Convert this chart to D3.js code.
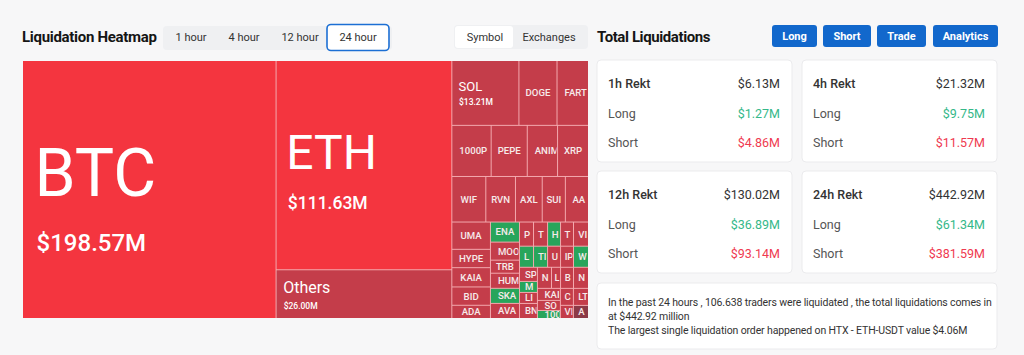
<!DOCTYPE html>
<html><head><meta charset="utf-8">
<script src="https://cdn.jsdelivr.net/npm/d3@7"></script>
<style>
body{margin:0;background:#f7f7f8;font-family:Roboto,"Noto Sans",sans-serif;}
svg{display:block}
</style></head><body>
<svg id="c" width="1024" height="355"></svg>
<script>
// ---- data ----
const coins  = ["BTC","ETH","Others","SOL","DOGE","FARTCOIN","1000PEPE","PEPE","ANIME","XRP",
  "WIF","RVN","AXL","SUI","AAVE","UMA","HYPE","KAIA","BID","ADA",
  "ENA","MOODENG","TRB","HUMA","SKATE","AVAX",
  "PNUT","TRUMP","HBAR","TAO","VIRTUAL","LAYER","TIA","UNI","IP","WLD",
  "SPX","MASK","LINK","BNB","NEAR","LDO","BERA","NEIRO","KAITO","SOPH","1000BONK","CRV","VINE","LTC","ARB"];
const values = [198.57,111.63,26.00,13.21,7.5,6.2,6.1,5.6,4.7,4.8,
  4.7,4.1,3.7,3.2,3.2,3.2,2.15,2.26,2.15,1.55,
  1.77,1.59,1.15,1.33,1.33,1.33,
  1.03,1.03,0.95,0.95,1.1,0.9,0.9,0.83,0.83,0.96,
  0.77,0.6,0.6,0.82,0.9,0.58,0.83,0.96,0.84,0.7,0.56,0.67,0.52,0.78,0.6];
const kinds  = ["hot","hot","red","red","red","red","red","red","red","red",
  "red","red","red","red","red","red","red","red","red","red",
  "green","red","red","red","green","red",
  "red","red","green","red","red","green","green","red","red","green",
  "red","green","red","red","red","red","red","red","red","red","green","red","red","red","dark"];
// nesting of the treemap (dice = side by side, slice = stacked)
const nesting = ["dice","BTC",["slice","ETH","Others"],
  ["slice",["dice","SOL","DOGE","FARTCOIN"],["dice","1000PEPE","PEPE","ANIME","XRP"],
    ["dice","WIF","RVN","AXL","SUI","AAVE"],
    ["dice",["slice","UMA","HYPE","KAIA","BID","ADA"],["slice","ENA","MOODENG","TRB","HUMA","SKATE","AVAX"],
      ["slice",["dice","PNUT","TRUMP","HBAR","TAO","VIRTUAL"],["dice","LAYER","TIA","UNI","IP","WLD"],
        ["dice",["slice","SPX","MASK","LINK","BNB"],
          ["slice",["dice","NEAR","LDO","BERA","NEIRO"],
            ["dice",["slice","KAITO","SOPH","1000BONK"],["slice","CRV","VINE"],["slice","LTC","ARB"]]]]]]]];
const timeTabs = ["1 hour","4 hour","12 hour","24 hour"];
const viewTabs = ["Symbol","Exchanges"];
const buttons = ["Long","Short","Trade","Analytics"];
const periods = ["1h","4h","12h","24h"];
const totals = [6.13,21.32,130.02,442.92];
const longs  = [1.27,9.75,36.89,61.34];
const shorts = [4.86,11.57,93.14,381.59];
const summary = ["In the past 24 hours , 106.638 traders were liquidated , the total liquidations comes in",
  "at $442.92 million",
  "The largest single liquidation order happened on HTX - ETH-USDT value $4.06M"];

// ---- drawing ----
const svg = d3.select("#c");
const fmt = v => "$" + d3.format(".2f")(v) + "M";
const colors = {hot:"#f4353f", red:"#c43d4a", green:"#28a55b", dark:"#8c3a47"};

// Header left
svg.append("text").attr("x",22).attr("y",42).attr("font-size",15).attr("font-weight",700)
  .attr("fill","#151515").attr("letter-spacing","-0.3").text("Liquidation Heatmap");
svg.append("rect").attr("x",163).attr("y",26).attr("width",229).attr("height",24).attr("rx",4).attr("fill","#eff0f2");
const tabX = [191,244,300,358];
timeTabs.forEach((t,i)=>{
  if(i===3) svg.append("rect").attr("x",327).attr("y",24.5).attr("width",62).attr("height",26).attr("rx",4)
     .attr("fill","#fff").attr("stroke","#1c6fd4").attr("stroke-width",1.6);
  svg.append("text").attr("x",tabX[i]).attr("y",41).attr("text-anchor","middle").attr("font-size",11)
    .attr("fill","#333").text(t);
});
svg.append("rect").attr("x",454).attr("y",25).attr("width",134).attr("height",24).attr("rx",4).attr("fill","#eff0f2");
svg.append("rect").attr("x",455).attr("y",26).attr("width",58).attr("height",22).attr("rx",3).attr("fill","#fff");
[485,549].forEach((x,i)=>svg.append("text").attr("x",x).attr("y",41).attr("text-anchor","middle")
  .attr("font-size",11).attr("fill","#333").text(viewTabs[i]));

// Treemap
function build(s){
  if(typeof s === "string"){ const i = coins.indexOf(s); return {name:s, value:values[i], kind:kinds[i]}; }
  return {mode:s[0], children:s.slice(1).map(build)};
}
const root = d3.hierarchy(build(nesting)).sum(d => d.value || 0);
const tile = (node,x0,y0,x1,y1) => (node.data.mode==="slice" ? d3.treemapSlice : d3.treemapDice)(node,x0,y0,x1,y1);
const TW = 565, TH = 257;
d3.treemap().tile(tile).size([TW,TH]).paddingInner(1)(root);
const g = svg.append("g").attr("transform","translate(23,61)");
g.append("rect").attr("width",TW).attr("height",TH).attr("fill","#f3a9ae");
const nameSize = d3.scaleLinear().domain([13.21,26,111.63,198.57]).range([13,16,48,66]);
const valSize  = d3.scaleLinear().domain([13.21,26,111.63,198.57]).range([8.5,8.5,17.5,24]);
const leaves = root.leaves();
const cell = g.selectAll("g.cell").data(leaves).join("g").attr("class","cell");
cell.append("clipPath").attr("id",(d,i)=>"cp"+i).append("rect")
  .attr("x",d=>d.x0).attr("y",d=>d.y0).attr("width",d=>Math.max(0,d.x1-d.x0-0.5)).attr("height",d=>d.y1-d.y0);
cell.append("rect").attr("x",d=>d.x0).attr("y",d=>d.y0)
  .attr("width",d=>d.x1-d.x0).attr("height",d=>d.y1-d.y0).attr("fill",d=>colors[d.data.kind]);
cell.each(function(d,i){
  const c = d3.select(this).append("g").attr("clip-path",`url(#cp${i})`);
  const w = d.x1-d.x0, cy = (d.y0+d.y1)/2;
  if(d.data.value >= 10){
    const ns = nameSize(d.data.value), vs = valSize(d.data.value);
    const x = d.x0 + 5 + ns*0.1;
    const yb = cy + ns*0.15 - 3.5;
    c.append("text").attr("x",x).attr("y",yb).attr("font-size",ns).attr("fill","#fff").text(d.data.name);
    c.append("text").attr("x",x+ns*0.03).attr("y",yb + ns*0.55 + vs*0.8).attr("font-size",vs)
      .attr("font-weight",500).attr("fill","#fff").text(fmt(d.data.value));
  } else {
    const t = c.append("text").attr("y",cy+3.4).attr("font-size",9.6).attr("font-weight",500)
      .attr("fill","#f6eaea").text(d.data.name);
    let tw = t.node().getComputedTextLength();
    if(tw <= w-4){ t.attr("x",d.x0+w/2).attr("text-anchor","middle"); }
    else {
      const pad = Math.min(7, w*0.3);
      t.attr("x",d.x0+pad);
      let s = d.data.name;
      while(s.length > 1 && t.node().getComputedTextLength() > w - pad + 2){
        s = s.slice(0,-1); t.text(s);
      }
    }
  }
});

// Right header
svg.append("text").attr("x",597).attr("y",42).attr("font-size",15).attr("font-weight",700)
  .attr("fill","#151515").attr("letter-spacing","-0.4").text("Total Liquidations");
const btnX = [772,823,877,933], btnW = [45,48,49,65];
buttons.forEach((b,i)=>{
  svg.append("rect").attr("x",btnX[i]).attr("y",25).attr("width",btnW[i]).attr("height",22).attr("rx",3).attr("fill","#1268cc");
  svg.append("text").attr("x",btnX[i]+btnW[i]/2).attr("y",40).attr("text-anchor","middle").attr("font-size",11)
    .attr("font-weight",700).attr("fill","#fff").text(b);
});

// Cards
const cardX = [597,802], cardY = [60,171], cardW = 195, cardH = 102;
periods.forEach((p,i)=>{
  const x = cardX[i%2], y = cardY[Math.floor(i/2)];
  svg.append("rect").attr("x",x).attr("y",y).attr("width",cardW).attr("height",cardH).attr("rx",4)
    .attr("fill","#fff").attr("stroke","#ebebed");
  const rows = [[p+" Rekt",totals[i],"#333","#333"],["Long",longs[i],"#555","#35b889"],["Short",shorts[i],"#555","#ef3a50"]];
  rows.forEach((r,j)=>{
    const yy = y + 28 + j*29.5;
    svg.append("text").attr("x",x+11).attr("y",yy).attr("font-size",12.5).attr("font-weight",j===0?500:400)
      .attr("fill",r[2]).text(r[0]);
    svg.append("text").attr("x",x+cardW-12).attr("y",yy).attr("text-anchor","end").attr("font-size",12.5)
      .attr("font-weight",400).attr("fill",r[3]).text(fmt(r[1]));
  });
});
svg.append("rect").attr("x",597).attr("y",283).attr("width",400).attr("height",66).attr("rx",4)
  .attr("fill","#fff").attr("stroke","#ebebed");
summary.forEach((s,i)=>svg.append("text").attr("x",608).attr("y",306+i*14).attr("font-size",10.5)
  .attr("letter-spacing","-0.13").attr("fill","#333").text(s));
</script>
</body></html>
